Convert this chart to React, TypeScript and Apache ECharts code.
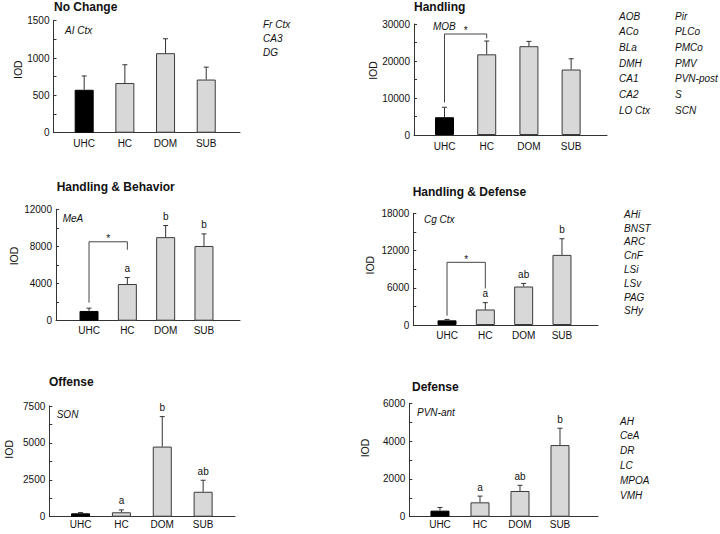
import React, { useEffect, useRef } from 'react';
import * as echarts from 'echarts';

// ---------- data ----------
const categories = ['UHC', 'HC', 'DOM', 'SUB'];
const panelTitles = ['No Change', 'Handling', 'Handling & Behavior', 'Handling & Defense', 'Offense', 'Defense'];
const yMaxima = [1500, 30000, 12000, 18000, 7500, 6000];
const yIntervals = [500, 10000, 4000, 6000, 2500, 2000];

const noChangeMean = [575, 665, 1065, 712];
const noChangeSem = [185, 245, 193, 166];
const handlingMean = [4800, 21800, 24000, 17700];
const handlingSem = [2700, 3600, 1300, 2900];
const behaviorMean = [1050, 3950, 9000, 8050];
const behaviorSem = [300, 700, 1250, 1300];
const hDefenseMean = [750, 2500, 6200, 11300];
const hDefenseSem = [150, 1100, 500, 2600];
const offenseMean = [230, 300, 4750, 1690];
const offenseSem = [50, 160, 2030, 780];
const defenseMean = [320, 760, 1360, 3790];
const defenseSem = [170, 330, 300, 890];

const noLetters = ['', '', '', ''];
const behaviorLetters = ['', 'a', 'b', 'b'];
const hDefenseLetters = ['', 'a', 'ab', 'b'];
const offenseLetters = ['', 'a', 'b', 'ab'];
const defenseLetters = ['', 'a', 'ab', 'b'];

// significance brackets: [from category, to category, top, left foot, right foot]
const handlingBracket = [1, 2, 27300, 8800, 26100];
const behaviorBracket = [1, 2, 8500, 1950, 7640];
const hDefenseBracket = [1, 2, 10100, 1500, 5900];

const plotRegions = ['AI Ctx', 'MOB', 'MeA', 'Cg Ctx', 'SON', 'PVN-ant'];
const noChangeRegions = ['Fr Ctx', 'CA3', 'DG'];
const handlingRegionsA = ['AOB', 'ACo', 'BLa', 'DMH', 'CA1', 'CA2', 'LO Ctx'];
const handlingRegionsB = ['Pir', 'PLCo', 'PMCo', 'PMV', 'PVN-post', 'S', 'SCN'];
const hDefenseRegions = ['AHi', 'BNST', 'ARC', 'CnF', 'LSi', 'LSv', 'PAG', 'SHy'];
const defenseRegions = ['AH', 'CeA', 'DR', 'LC', 'MPOA', 'VMH'];

const panelMeans = [noChangeMean, handlingMean, behaviorMean, hDefenseMean, offenseMean, defenseMean];
const panelSems = [noChangeSem, handlingSem, behaviorSem, hDefenseSem, offenseSem, defenseSem];
const panelLetters = [noLetters, noLetters, behaviorLetters, hDefenseLetters, offenseLetters, defenseLetters];
const panelBrackets = [null, handlingBracket, behaviorBracket, hDefenseBracket, null, null];

// ---------- layout (positions / styles only) ----------
const FONT = "'Liberation Sans', Arial, Helvetica, sans-serif";
const INK = '#111';
const AXIS = '#333';

const layout = [
  { left: 53.5, top: 20.7, width: 186.5, height: 112, xMin: 0.246, xMax: 4.83, nameGap: 28.5, nameUp: 7, labelMargin: 6, title: [54, 1], tag: [65, 30] },
  { left: 414, top: 24, width: 193, height: 111, xMin: 0.277, xMax: 4.85, nameGap: 35.5, nameUp: 9, labelMargin: 6, title: [414, 1], tag: [433, 26] },
  { left: 56, top: 209.3, width: 184, height: 111.4, xMin: 0.138, xMax: 4.94, nameGap: 37, nameUp: 9, labelMargin: 5, title: [56.7, 181], tag: [62.7, 218] },
  { left: 413.3, top: 213.3, width: 184.7, height: 111.7, xMin: 0.12, xMax: 4.94, nameGap: 38, nameUp: 4, labelMargin: 5, title: [412.7, 185.7], tag: [424, 219.3] },
  { left: 49.3, top: 406, width: 185.7, height: 110.7, xMin: 0.235, xMax: 4.78, nameGap: 35, nameUp: 12, labelMargin: 3, title: [49, 376], tag: [56.7, 414] },
  { left: 409.3, top: 403.3, width: 188.7, height: 113.4, xMin: 0.233, xMax: 4.95, nameGap: 39, nameUp: 12, labelMargin: 3, title: [412, 381], tag: [417, 412] },
];

const listLayout = [
  { items: noChangeRegions, x: 263, y: 24, step: 14 },
  { items: handlingRegionsA, x: 619, y: 16, step: 15.7 },
  { items: handlingRegionsB, x: 675, y: 16, step: 15.7 },
  { items: hDefenseRegions, x: 624, y: 214.3, step: 13.8 },
  { items: defenseRegions, x: 620, y: 421, step: 14.8 },
];

function italicText(text: string, x: number, y: number) {
  return {
    type: 'text',
    x,
    y,
    silent: true,
    style: {
      text,
      font: `italic 10px ${FONT}`,
      fill: INK,
      align: 'left',
      textAlign: 'left',
      verticalAlign: 'middle',
      textVerticalAlign: 'middle',
    },
  };
}

function makeErrorRender(letters: string[]) {
  return (params: any, api: any) => {
    const x = api.value(0);
    const m = api.value(1);
    const s = api.value(2);
    const base = api.coord([x, m]);
    const tip = api.coord([x, m + s]);
    const children: any[] = [
      { type: 'line', shape: { x1: base[0], y1: base[1], x2: tip[0], y2: tip[1] }, style: { stroke: AXIS, lineWidth: 1 } },
      { type: 'line', shape: { x1: tip[0] - 2.5, y1: tip[1], x2: tip[0] + 2.5, y2: tip[1] }, style: { stroke: AXIS, lineWidth: 1 } },
    ];
    const letter = letters[params.dataIndex];
    if (letter) {
      children.push({
        type: 'text',
        x: tip[0],
        y: tip[1] - 4,
        style: { text: letter, fill: INK, font: `10px ${FONT}`, align: 'center', textAlign: 'center', verticalAlign: 'bottom', textVerticalAlign: 'bottom' },
      });
    }
    return { type: 'group', children };
  };
}

function bracketRender(params: any, api: any) {
  const x1 = api.value(0);
  const x2 = api.value(1);
  const top = api.value(2);
  const lf = api.value(3);
  const rf = api.value(4);
  const a = api.coord([x1, lf]);
  const b = api.coord([x1, top]);
  const c = api.coord([x2, top]);
  const d = api.coord([x2, rf]);
  return {
    type: 'group',
    children: [
      { type: 'polyline', shape: { points: [a, b, c, d] }, style: { stroke: '#444', lineWidth: 1, fill: 'none' } },
      {
        type: 'text',
        x: (b[0] + c[0]) / 2,
        y: b[1] - 3,
        style: { text: '*', fill: INK, font: `10px ${FONT}`, align: 'center', textAlign: 'center', verticalAlign: 'middle', textVerticalAlign: 'middle' },
      },
    ],
  };
}

function buildOption() {
  const grid = layout.map((l) => ({
    left: l.left,
    top: l.top,
    width: l.width,
    height: l.height,
    containLabel: false,
    outerBoundsMode: 'none',
  }));

  const xAxis = layout.map((l, i) => ({
    type: 'value',
    gridIndex: i,
    min: l.xMin,
    max: l.xMax,
    axisLine: { show: true, onZero: false, lineStyle: { color: AXIS, width: 1 } },
    axisTick: { show: false },
    splitLine: { show: false },
    axisLabel: {
      customValues: [1, 2, 3, 4],
      formatter: (v: number) => categories[Math.round(v) - 1] ?? '',
      margin: l.labelMargin,
      color: INK,
      fontSize: 10,
      fontFamily: FONT,
    },
  }));

  const yAxis = layout.map((l, i) => ({
    type: 'value',
    gridIndex: i,
    min: 0,
    max: yMaxima[i],
    interval: yIntervals[i],
    name: 'IOD',
    nameLocation: 'middle',
    nameGap: l.nameGap,
    nameTextStyle: { color: INK, fontSize: 10.5, fontFamily: FONT, padding: [0, 0, 0, l.nameUp * 2] },
    axisLine: { show: true, lineStyle: { color: AXIS, width: 1 } },
    axisTick: { show: true, inside: true, length: 3, lineStyle: { color: AXIS } },
    minorTick: { show: true, splitNumber: 2, length: 3, lineStyle: { color: AXIS } },
    splitLine: { show: false },
    axisLabel: {
      margin: 4,
      color: INK,
      fontSize: 10,
      fontFamily: FONT,
      formatter: (v: number) => String(v),
    },
  }));

  const series: any[] = [];
  panelMeans.forEach((means, i) => {
    series.push({
      type: 'bar',
      xAxisIndex: i,
      yAxisIndex: i,
      barWidth: 19,
      silent: true,
      itemStyle: { color: '#d8d8d8', borderColor: '#3a3a3a', borderWidth: 1 },
      data: means.map((m, k) => ({
        value: [k + 1, m],
        itemStyle: k === 0 ? { color: '#000', borderColor: '#000' } : undefined,
      })),
    });
    series.push({
      type: 'custom',
      xAxisIndex: i,
      yAxisIndex: i,
      silent: true,
      z: 5,
      renderItem: makeErrorRender(panelLetters[i]),
      data: means.map((m, k) => [k + 1, m, panelSems[i][k]]),
    });
    const br = panelBrackets[i];
    if (br) {
      series.push({
        type: 'custom',
        xAxisIndex: i,
        yAxisIndex: i,
        silent: true,
        z: 5,
        encode: { x: [0, 1], y: [2, 3, 4] },
        renderItem: bracketRender,
        data: [br],
      });
    }
  });

  const elements: any[] = [];
  layout.forEach((l, i) => elements.push(italicText(plotRegions[i], l.tag[0], l.tag[1])));
  listLayout.forEach((ls) => ls.items.forEach((t, k) => elements.push(italicText(t, ls.x, ls.y + k * ls.step))));

  return {
    animation: false,
    backgroundColor: '#fff',
    textStyle: { fontFamily: FONT },
    title: panelTitles.map((t, i) => ({
      text: t,
      left: layout[i].title[0],
      top: layout[i].title[1],
      padding: 0,
      textStyle: { fontSize: 12, fontWeight: 'bold', color: INK, fontFamily: FONT },
    })),
    grid,
    xAxis,
    yAxis,
    series,
    graphic: { elements },
  };
}

export default function App() {
  const ref = useRef<HTMLDivElement>(null);
  useEffect(() => {
    if (!ref.current) return;
    const chart = echarts.init(ref.current, undefined, { renderer: 'svg' });
    chart.setOption(buildOption() as any);
    return () => chart.dispose();
  }, []);
  return (
    <div
      ref={ref}
      style={{ position: 'fixed', left: 0, top: 0, width: 720, height: 534, background: '#fff' }}
    />
  );
}
